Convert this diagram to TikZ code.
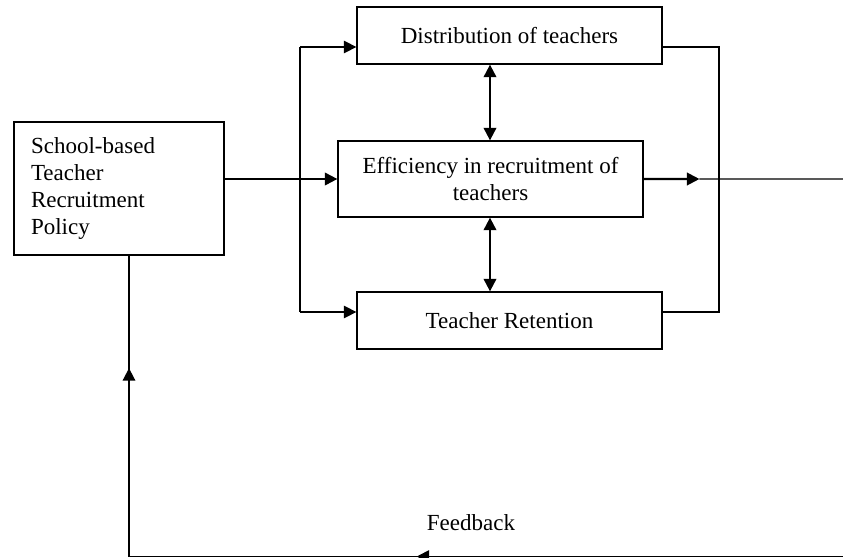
\documentclass[tikz,border=0pt]{standalone}
\usepackage{fontspec}
\setmainfont{Liberation Serif}
\usetikzlibrary{arrows.meta,positioning,calc}
\tikzset{
 box/.style={draw, line width=0.75pt, minimum width=6.1cm, minimum height=1.14cm, align=center, inner sep=2pt},
 link/.style={line width=0.7pt},
 arrow/.style={-{Triangle[length=0.25cm,width=0.25cm]}, line width=0.7pt},
 mainarrow/.style={arrow, line width=1.2pt},
 twoway/.style={{Triangle[length=0.25cm,width=0.25cm]}-{Triangle[length=0.25cm,width=0.25cm]}, line width=1.2pt}
}

\begin{document}
\begin{tikzpicture}[x=0.02cm,y=-0.02cm,font=\fontsize{13.1pt}{15.2pt}\selectfont]
\useasboundingbox (0,0) rectangle (843,558);
% blocks
\node[box, align=left, text width=3.52cm, inner xsep=0.34cm, minimum width=4.2cm, minimum height=2.66cm] (policy) at (119,188.5)
  {School-based\\Teacher\\Recruitment\\Policy};
\node[box] (dist) at (509.5,35.5) {Distribution of teachers};
\node[box, minimum height=1.52cm] (eff) at (490.5,179) {Efficiency in recruitment of\\teachers};
\node[box] (ret) at (509.5,320.5) {Teacher Retention};
\node (fbtext) at (471,523) {Feedback};

% split and join points
\coordinate (ltop) at (300,47);
\coordinate (lbot) at (300,312);
\coordinate (rtop) at (719,47);
\coordinate (rbot) at (719,312);
\coordinate (mid) at (490,179);
\coordinate (outend) at (843,179);
\coordinate (fbturn) at (129,556.5);
\coordinate (fbend) at (843,556.5);

% policy into the three outcomes
\draw[mainarrow] (policy.east |- eff.west) -- (eff.west);
\draw[link] (ltop) -- (lbot);
\draw[arrow] (ltop) -- (ltop -| dist.west);
\draw[arrow] (lbot) -- (lbot -| ret.west);
\draw[twoway] (mid |- dist.south) -- (mid |- eff.north);
\draw[twoway] (mid |- eff.south) -- (mid |- ret.north);

% right side
\draw[link] (rtop -| dist.east) -- (rtop) -- (rbot) -- (rbot -| ret.east);
\draw[mainarrow] (eff.east) -- ($(eff.east)!0.28!(outend)$) coordinate (outtip);
\draw[link] (outtip) -- (outend);

% feedback loop
\draw[link] (fbend) -- (fbturn) -- (fbturn |- policy.south);
\path (fbturn) -- (fbturn |- policy.south) coordinate[pos=0.626] (fbup);
\path (fbend) -- (fbturn) coordinate[pos=0.44] (fbmid) coordinate[pos=0.597] (fbleft);
\draw[arrow, line width=1pt] (fbturn) -- (fbup);
\draw[arrow, line width=1pt] (fbmid) -- (fbleft);
\end{tikzpicture}
\end{document}
